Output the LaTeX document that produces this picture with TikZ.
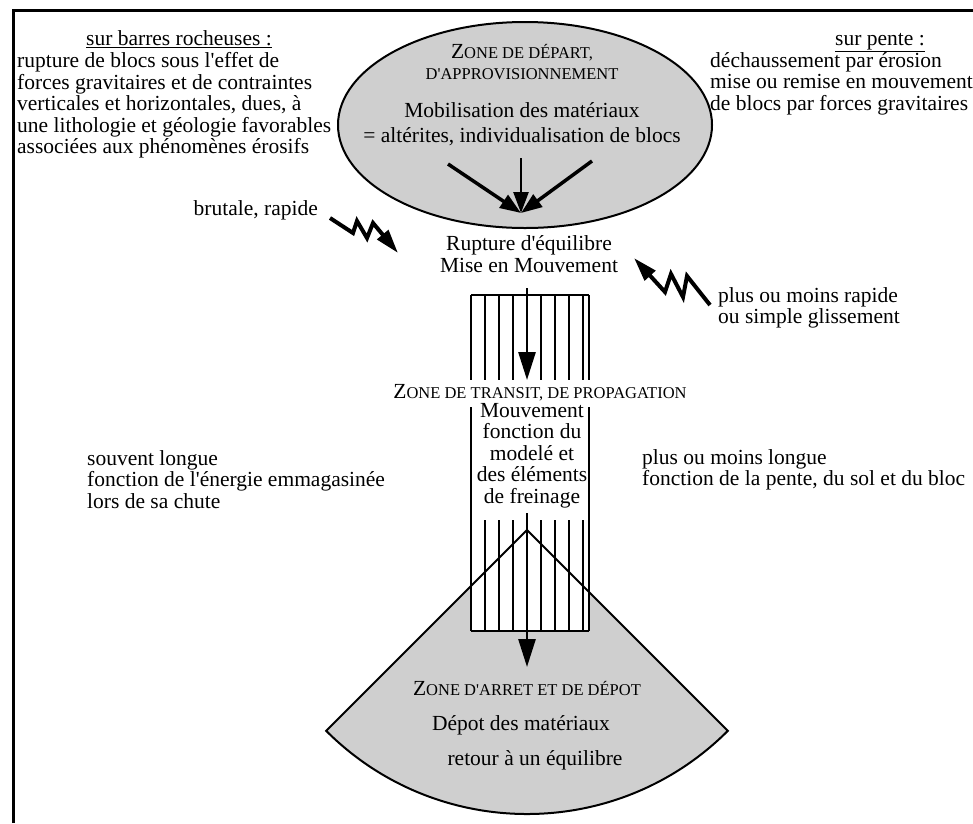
\documentclass[tikz,border=0pt]{standalone}
\usepackage{fontspec}
\setmainfont{Liberation Serif}
\usetikzlibrary{arrows.meta}
\newcommand{\smc}[1]{{\fontsize{16.5}{16.5}\selectfont #1}}
\newcommand{\ap}{\textquotesingle}
\tikzset{
  txt/.style={inner sep=0pt, font=\fontsize{21.5}{21.5}\selectfont},
  blk/.style={txt, align=left, anchor=north west},
  ctr/.style={txt, anchor=base},
  shadefill/.style={fill=black!19},
  outline/.style={draw=black, line width=2pt},
  stripe/.style={line width=2pt},
  bigarrow/.style={line width=2.7pt, -{Triangle[length=28pt,width=17pt]}},
  convarrow/.style={line width=3.5pt, -{Triangle[length=21pt,width=15pt]}},
  bolt/.style={line width=4pt, line join=miter, -{Triangle[length=24pt,width=14pt]}},
}
\begin{document}
\begin{tikzpicture}[x=1pt,y=-1pt]
\useasboundingbox (0,0) rectangle (973,823);
\fill[white] (0,0) rectangle (973,823);
% frame
\draw[line width=3pt] (13,823) -- (13,10) -- (973,10);

% left text block
\node[ctr] (t1) at (179,45) {\underline{sur barres rocheuses :}};
\node[blk] (t2) at (17,52.3) {rupture de blocs sous l\ap effet de\\forces gravitaires et de contraintes\\verticales et horizontales, dues, à\\une lithologie et géologie favorables\\associées aux phénomènes érosifs};

% right text block
\node[ctr] (r1) at (880,45) {\underline{sur pente :}};
\node[blk] (r2) at (710,52.3) {déchaussement par érosion\\mise ou remise en mouvement\\de blocs par forces gravitaires};

% ellipse
\draw[outline, shadefill] (525,125) ellipse [x radius=187, y radius=103];
\node[ctr] (e1) at (522,58) {Z\smc{ONE DE DÉPART,}};
\node[ctr] (e2) at (522,79) {\smc{D\ap APPROVISIONNEMENT}};
\node[ctr] (e3) at (522,117) {Mobilisation des matériaux};
\node[ctr] (e4) at (522,142) {= altérites, individualisation de blocs};
\coordinate (conv) at (521,213);
\coordinate (cl) at (448,164);
\coordinate (cr) at (592,161);
\coordinate (cc) at (521,158);
\draw[convarrow] (cl) -- (conv);
\draw[convarrow] (cr) -- (conv);
\draw[convarrow, line width=2.5pt] (cc) -- (conv);

% rupture
\node[ctr] (m1) at (529,250) {Rupture d\ap équilibre};
\node[ctr] (m2) at (529,272) {Mise en Mouvement};

% side notes
\node[txt, anchor=base east] (b1) at (318,215) {brutale, rapide};
\node[blk] (b2) at (718,287) {plus ou moins rapide\\ou simple glissement};

% bolts
\coordinate (lb0) at (330,218);
\coordinate (lb5) at (398,253);
\draw[bolt] (lb0) -- (353,233) -- (357,221) -- (367,238) -- (373,223) -- (lb5);
\coordinate (rb0) at (710,305);
\coordinate (rb5) at (634,258);
\draw[bolt] (rb0) -- (687,276) -- (683,297) -- (671,274) -- (665,292) -- (rb5);

% sector fill
\fill[shadefill] (527,530) -- ++(135:284) arc[start angle=135, end angle=45, radius=284] -- cycle;

% striped rectangle
\fill[white] (471,295) rectangle (589,631);
\draw[stripe] (471,295) -- (589,295);
\draw[stripe] (471,631) -- (589,631);
\foreach \xx in {471,485,499,513,541,555,569,583,589} {
  \draw[stripe] (\xx,295) -- (\xx,380);
}
\foreach \xx in {471,589} {
  \draw[stripe] (\xx,407) -- (\xx,631);
}
\foreach \xx in {485,499,513,541,555,569,583} {
  \draw[stripe] (\xx,520) -- (\xx,631);
}
% sector outline
\draw[outline, fill=none] (527,530) -- ++(135:284) arc[start angle=135, end angle=45, radius=284] -- cycle;

% transit
\node[ctr] (z2) at (540,398) {Z\smc{ONE DE TRANSIT, DE PROPAGATION}};
\node[txt, align=center, anchor=north] (z3) at (532,403) {Mouvement\\fonction du\\modelé et\\des éléments\\de freinage};
\coordinate (a1s) at (527,288);
\coordinate (a1e) at (527,380);
\draw[bigarrow] (a1s) -- (a1e);
\coordinate (a2s) at (527,513);
\coordinate (a2e) at (527,667);
\draw[bigarrow] (a2s) -- (a2e);

\node[blk] (s1) at (87,450) {souvent longue\\fonction de l\ap énergie emmagasinée\\lors de sa chute};
\node[blk] (s2) at (642,449) {plus ou moins longue\\fonction de la pente, du sol et du bloc};

% deposit
\node[ctr] (d1) at (527,695) {Z\smc{ONE D\ap ARRET ET DE DÉPOT}};
\node[ctr] (d2) at (521,730) {Dépot des matériaux};
\node[ctr] (d3) at (535,765) {retour à un équilibre};
\end{tikzpicture}
\end{document}
